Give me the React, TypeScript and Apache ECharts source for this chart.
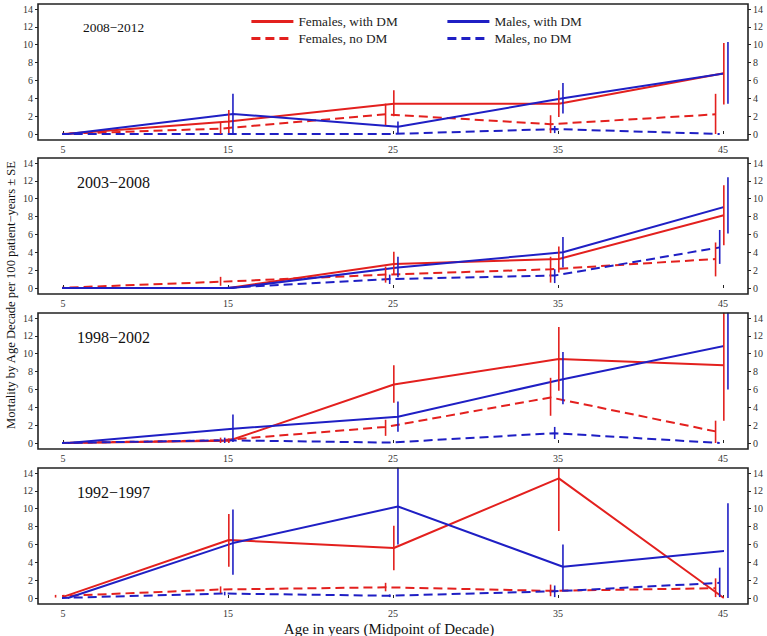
import React, { useEffect, useRef } from "react";
import * as echarts from "echarts";

// ---- Data ----
const AGES = [5, 15, 25, 35, 45];
const Y_TICKS = [0, 2, 4, 6, 8, 10, 12, 14];
const PERIODS = ["2008−2012", "2003−2008", "1998−2002", "1992−1997"];
const SERIES_NAMES = ["Females, with DM", "Females, no DM", "Males, with DM", "Males, no DM"];

// 2008–2012
const P1_F_DM = [0, 1.4, 3.4, 3.4, 6.8];
const P1_F_DM_SE = [null, [0.1, 2.7], [2.0, 4.9], [1.9, 4.9], [3.3, 10.2]];
const P1_F_NO = [0, 0.6, 2.2, 1.1, 2.2];
const P1_F_NO_SE = [null, [0.0, 1.3], [1.0, 3.4], [0.1, 2.1], [0.0, 4.5]];
const P1_M_DM = [0, 2.25, 0.8, 4.0, 6.85];
const P1_M_DM_SE = [null, [0.0, 4.5], [0.0, 1.4], [2.3, 5.7], [3.4, 10.3]];
const P1_M_NO = [0, 0, 0, 0.55, 0];
const P1_M_NO_SE = [null, null, null, [0.1, 0.9], null];

// 2003–2008
const P2_F_DM = [0, 0, 2.7, 3.25, 8.15];
const P2_F_DM_SE = [null, null, [1.45, 4.05], [1.75, 4.65], [4.8, 11.5]];
const P2_F_NO = [0, 0.7, 1.5, 2.1, 3.25];
const P2_F_NO_SE = [null, [0.25, 1.25], [0.6, 2.4], [0.6, 3.5], [1.3, 5.1]];
const P2_M_DM = [0, 0, 2.3, 4.0, 9.2];
const P2_M_DM_SE = [null, null, [1.2, 3.5], [2.3, 5.7], [6.1, 12.4]];
const P2_M_NO = [0, 0, 1.0, 1.4, 4.55];
const P2_M_NO_SE = [null, null, [0.45, 1.5], [0.55, 2.1], [2.7, 6.5]];

// 1998–2002
const P3_F_DM = [0, 0.25, 6.55, 9.4, 8.7];
const P3_F_DM_SE = [null, [0.0, 0.5], [4.5, 8.7], [5.85, 13.0], [2.5, 14.6]];
const P3_F_NO = [0, 0.3, 1.8, 5.1, 1.3];
const P3_F_NO_SE = [null, [0.0, 0.6], [0.8, 2.6], [3.05, 7.3], [0.0, 2.5]];
const P3_M_DM = [0, 1.6, 2.95, 7.15, 10.95];
const P3_M_DM_SE = [null, [0.1, 3.2], [1.25, 4.65], [4.35, 10.2], [6.0, 14.6]];
const P3_M_NO = [0, 0.3, 0.05, 1.1, 0];
const P3_M_NO_SE = [null, [0.0, 0.6], null, [0.45, 1.8], null];

// 1992–1997
const P4_F_DM = [0.15, 6.5, 5.6, 13.4, 0];
const P4_F_DM_SE = [null, [3.5, 9.4], [3.1, 8.1], [7.5, 14.6], null];
const P4_F_NO = [0.2, 0.95, 1.2, 0.8, 1.1];
const P4_F_NO_SE = [[0.05, 0.35], [0.55, 1.3], [0.75, 1.7], [0.2, 1.5], [0.1, 2.2]];
const P4_M_DM = [0, 6.15, 10.25, 3.5, 5.3];
const P4_M_DM_SE = [null, [2.6, 9.9], [6.0, 14.6], [0.7, 6.0], [0.0, 10.6]];
const P4_M_NO = [0, 0.5, 0.25, 0.75, 1.7];
const P4_M_NO_SE = [null, [0.3, 0.7], [0.1, 0.4], [0.1, 1.4], [0.1, 3.4]];

const PANEL_VALUES = [
  [P1_F_DM, P1_F_NO, P1_M_DM, P1_M_NO],
  [P2_F_DM, P2_F_NO, P2_M_DM, P2_M_NO],
  [P3_F_DM, P3_F_NO, P3_M_DM, P3_M_NO],
  [P4_F_DM, P4_F_NO, P4_M_DM, P4_M_NO],
];
const PANEL_SE = [
  [P1_F_DM_SE, P1_F_NO_SE, P1_M_DM_SE, P1_M_NO_SE],
  [P2_F_DM_SE, P2_F_NO_SE, P2_M_DM_SE, P2_M_NO_SE],
  [P3_F_DM_SE, P3_F_NO_SE, P3_M_DM_SE, P3_M_NO_SE],
  [P4_F_DM_SE, P4_F_NO_SE, P4_M_DM_SE, P4_M_NO_SE],
];

// ---- Styles / layout ----
const RED = "#e3201e";
const BLUE = "#1f1fc4";
const SERIES_COLORS = [RED, RED, BLUE, BLUE];
const SERIES_DASHED = [false, true, false, true];
const X_JITTER = [0.05, -0.45, 0.3, -0.2];
const FRAME_TOPS = [4, 158, 313, 468];
const FRAME_H = 136;
const FRAME_L = 38;
const FRAME_R = 748;
const FONT = "Liberation Serif, Times New Roman, serif";

export default function App() {
  const ref = useRef<HTMLDivElement>(null);

  useEffect(() => {
    document.body.style.margin = "0";
    if (!ref.current) return;
    const chart = echarts.init(ref.current, null, { renderer: "svg" });

    const grid: any[] = [];
    const xAxis: any[] = [];
    const yAxis: any[] = [];
    const series: any[] = [];
    const graphic: any[] = [];

    FRAME_TOPS.forEach((ft, p) => {
      grid.push({ left: 63, width: 660, top: ft + 5, height: 125 });
      xAxis.push({
        type: "value",
        gridIndex: p,
        min: 5,
        max: 45,
        interval: 10,
        offset: 6,
        axisLine: { show: false },
        axisTick: { show: true, inside: true, length: 3, lineStyle: { color: "#222" } },
        axisLabel: { fontFamily: FONT, fontSize: 10, color: "#333", margin: 4 },
        splitLine: { show: false },
      });
      ["left", "right"].forEach((pos) => {
        yAxis.push({
          type: "value",
          gridIndex: p,
          position: pos,
          min: Y_TICKS[0],
          max: Y_TICKS[Y_TICKS.length - 1],
          interval: 2,
          offset: 25,
          axisLine: { show: false },
          axisTick: { show: true, length: 3, lineStyle: { color: "#222" } },
          axisLabel: { fontFamily: FONT, fontSize: 10, color: "#333", margin: 5 },
          splitLine: { show: false },
        });
      });

      PANEL_VALUES[p].forEach((vals, s) => {
        series.push({
          type: "line",
          name: SERIES_NAMES[s],
          xAxisIndex: p,
          yAxisIndex: p * 2,
          data: AGES.map((a, k) => [a + X_JITTER[s], vals[k]]),
          symbol: "none",
          showSymbol: false,
          clip: false,
          lineStyle: {
            color: SERIES_COLORS[s],
            width: 2,
            type: SERIES_DASHED[s] ? [9, 5] : "solid",
          },
          itemStyle: { color: SERIES_COLORS[s] },
          z: 3,
        });
        const se = PANEL_SE[p][s];
        const rows: number[][] = [];
        AGES.forEach((a, k) => {
          const r = se[k];
          if (r) rows.push([a + X_JITTER[s], r[0], r[1]]);
        });
        const color = SERIES_COLORS[s];
        series.push({
          type: "custom",
          xAxisIndex: p,
          yAxisIndex: p * 2,
          data: rows,
          clip: false,
          encode: { x: 0, y: [1, 2] },
          renderItem: (params: any, api: any) => {
            const x = api.value(0);
            const p1 = api.coord([x, api.value(1)]);
            const p2 = api.coord([x, api.value(2)]);
            return {
              type: "line",
              shape: { x1: p1[0], y1: p1[1], x2: p2[0], y2: p2[1] },
              style: { stroke: color, lineWidth: 1.6 },
            };
          },
          z: 4,
        });
      });

      graphic.push({
        type: "rect",
        shape: { x: FRAME_L, y: ft, width: FRAME_R - FRAME_L, height: FRAME_H },
        style: { fill: "none", stroke: "#222", lineWidth: 1.6 },
        z: 10,
      });
      graphic.push({
        type: "text",
        x: p === 0 ? 83 : 77,
        y: p === 0 ? ft + 23 : ft + 24,
        style: {
          text: PERIODS[p],
          fontFamily: FONT,
          fontSize: p === 0 ? 13.4 : 16,
          fill: "#111",
          textAlign: "left",
          textVerticalAlign: "middle",
        },
        z: 10,
      });
    });

    graphic.push({
      type: "text",
      x: 11,
      y: 295,
      rotation: Math.PI / 2,
      style: {
        text: "Mortality by Age Decade per 100 patient−years ± SE",
        fontFamily: FONT,
        fontSize: 12.6,
        fill: "#111",
        textAlign: "center",
        textVerticalAlign: "middle",
      },
    });
    graphic.push({
      type: "text",
      x: 389,
      y: 628.5,
      style: {
        text: "Age in years (Midpoint of Decade)",
        fontFamily: FONT,
        fontSize: 15,
        fill: "#111",
        textAlign: "center",
        textVerticalAlign: "middle",
      },
    });

    const legendCommon = {
      orient: "vertical",
      top: 10,
      itemWidth: 42,
      itemHeight: 14,
      itemGap: 4,
      selectedMode: false,
      itemStyle: { opacity: 0 },
      lineStyle: { width: 2.8 },
      textStyle: { fontFamily: FONT, fontSize: 13.3, color: "#222" },
    };

    chart.setOption({
      animation: false,
      backgroundColor: "#fff",
      grid,
      xAxis,
      yAxis,
      series,
      graphic,
      legend: [
        { ...legendCommon, left: 245, data: [SERIES_NAMES[0], SERIES_NAMES[1]] },
        { ...legendCommon, left: 441, data: [SERIES_NAMES[2], SERIES_NAMES[3]] },
      ],
    });

    return () => chart.dispose();
  }, []);

  return <div ref={ref} style={{ width: 767, height: 636 }} />;
}
